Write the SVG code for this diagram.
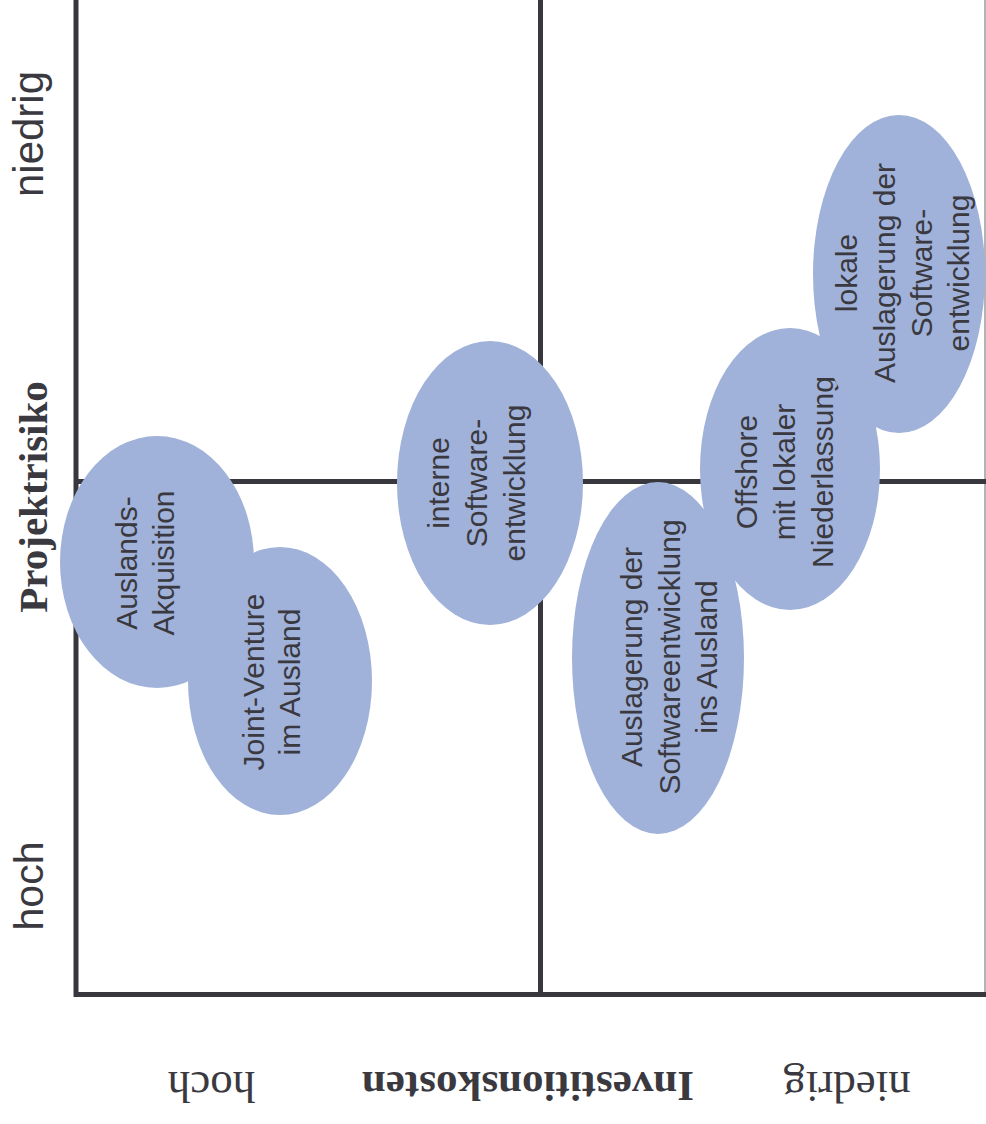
<svg xmlns="http://www.w3.org/2000/svg" width="986" height="1124" viewBox="0 0 986 1124">
<style>
.bg{fill:#ffffff}
.ax{fill:none;stroke:#38373d;stroke-width:5;stroke-linejoin:miter;stroke-linecap:butt}
.edge{fill:none;stroke:#9a9a9e;stroke-width:1.5}
.blob{fill:#a0b2d9}
.nt{font-family:"Liberation Sans",Arial,sans-serif;font-size:30px;fill:#3a393f;text-anchor:middle}
.lab{font-family:"Liberation Sans",Arial,sans-serif;font-size:42px;fill:#3a393f;text-anchor:middle}
.ser{font-family:"Liberation Serif","Times New Roman",serif;font-size:45px;fill:#3a393f;text-anchor:middle}
.bold{font-weight:bold}
</style>
<rect class="bg" x="0" y="0" width="986" height="1124"/>
<g id="connectors">
<line class="edge" x1="985" y1="0" x2="985" y2="994"/>
<path class="ax" d="M76 0 V994.5 H986"/>
<line class="ax" x1="540.5" y1="0" x2="540.5" y2="994"/>
<line class="ax" x1="76" y1="481.5" x2="986" y2="481.5"/>
</g>
<g id="axis-labels">
<text class="lab" transform="translate(43,134) rotate(-90)">niedrig</text>
<text class="lab" style="font-size:41px" transform="translate(43,886) rotate(-90)">hoch</text>
<text class="ser bold" style="font-size:41px" transform="translate(47,497) rotate(-90)">Projektrisiko</text>
<text class="ser" transform="translate(211.5,1072) rotate(180)">hoch</text>
<text class="ser bold" style="font-size:43px" transform="translate(528,1072) rotate(180)">Investitionskosten</text>
<text class="ser" transform="translate(847,1072) rotate(180)">niedrig</text>
</g>
<g id="node-auslands-akquisition">
<ellipse class="blob" cx="157" cy="562" rx="97" ry="126"/>
<g transform="translate(137,563) rotate(-90)">
<text class="nt" x="0" y="0">Auslands-</text>
<text class="nt" x="0" y="37">Akquisition</text>
</g>
</g>
<g id="node-joint-venture">
<ellipse class="blob" cx="280" cy="681" rx="92" ry="134"/>
<g transform="translate(264,682) rotate(-90)">
<text class="nt" x="0" y="0">Joint-Venture</text>
<text class="nt" x="0" y="36">im Ausland</text>
</g>
</g>
<g id="node-interne">
<ellipse class="blob" cx="490" cy="483" rx="93" ry="142"/>
<g transform="translate(449,483) rotate(-90)">
<text class="nt" x="0" y="0">interne</text>
<text class="nt" x="0" y="38">Software-</text>
<text class="nt" x="0" y="76">entwicklung</text>
</g>
</g>
<g id="node-auslagerung-ausland">
<ellipse class="blob" cx="658" cy="658" rx="86" ry="176"/>
<g transform="translate(642,657) rotate(-90)">
<text class="nt" x="0" y="0">Auslagerung der</text>
<text class="nt" x="0" y="37.5">Softwareentwicklung</text>
<text class="nt" x="0" y="75">ins Ausland</text>
</g>
</g>
<g id="node-offshore">
<ellipse class="blob" cx="790" cy="469" rx="90" ry="141"/>
<g transform="translate(757,472) rotate(-90)">
<text class="nt" x="0" y="0">Offshore</text>
<text class="nt" x="0" y="38">mit lokaler</text>
<text class="nt" x="0" y="76">Niederlassung</text>
</g>
</g>
<g id="node-lokale">
<ellipse class="blob" cx="899" cy="274" rx="86" ry="159"/>
<g transform="translate(857,273) rotate(-90)">
<text class="nt" x="0" y="0">lokale</text>
<text class="nt" x="0" y="37.5">Auslagerung der</text>
<text class="nt" x="0" y="75">Software-</text>
<text class="nt" x="0" y="112">entwicklung</text>
</g>
</g>
</svg>
